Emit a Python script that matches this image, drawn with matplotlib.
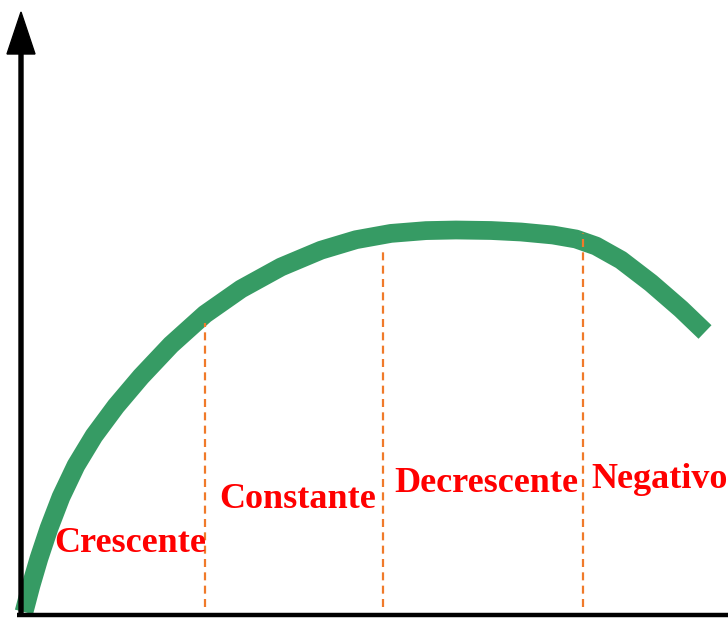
import numpy as np
import matplotlib
matplotlib.use('Agg')
import matplotlib.pyplot as plt

# ------------------------------------------------------
# curve (origin at the corner of the axes)
curve_x = [3, 10, 18, 28, 40, 55, 73, 95, 120, 150, 184, 220, 260, 300, 335, 370, 405, 435, 470, 500, 532, 555, 575, 600, 630, 660, 684]
curve_y = [3, 29.6, 56.8, 86.8, 118, 149.5, 179.2, 208.9, 238.4, 270.2, 300.8, 326, 348, 364.8, 375.3, 381.6, 384.4, 385, 384.5, 383, 380, 376, 369, 355, 332, 306, 283]

# phase boundaries and labels
bound_x = [184, 362, 562]
bound_top = [292, 367, 382]
labels = ['Crescente', 'Constante', 'Decrescente', 'Negativo']
label_x = [109, 277, 465, 639]
label_y = [71, 115, 131, 135]
# ------------------------------------------------------

fig = plt.figure(figsize=(7.28, 6.25), dpi=100)
ax = fig.add_axes([0, 0, 1, 1])
ax.set_xlim(-21, 707)
ax.set_ylim(-10, 615)
ax.axis('off')

# axes drawn by hand: x line without arrow, y line with arrow
ax.plot([-4, 707], [0, 0], color='black', lw=3.2, solid_capstyle='butt', zorder=3)
ax.arrow(0, 0, 0, 603, width=4, head_width=28, head_length=42,
         length_includes_head=True, color='black', zorder=3)

# the green curve
ax.plot(curve_x, curve_y, color='#369b64', lw=13.5, solid_capstyle='butt',
        solid_joinstyle='round', zorder=2)

# dashed boundaries
for bx, bt in zip(bound_x, bound_top):
    ax.plot([bx, bx], [8, bt], color='#f07a2a', lw=1.6, dashes=(3.6, 2.4), zorder=4)

# labels
for t, lx, ly in zip(labels, label_x, label_y):
    ax.text(lx, ly, t, color='#ff0000', fontsize=26, fontweight='bold',
            family='Liberation Serif', ha='center', va='center', zorder=5)

fig.savefig('out.png', dpi=100)
